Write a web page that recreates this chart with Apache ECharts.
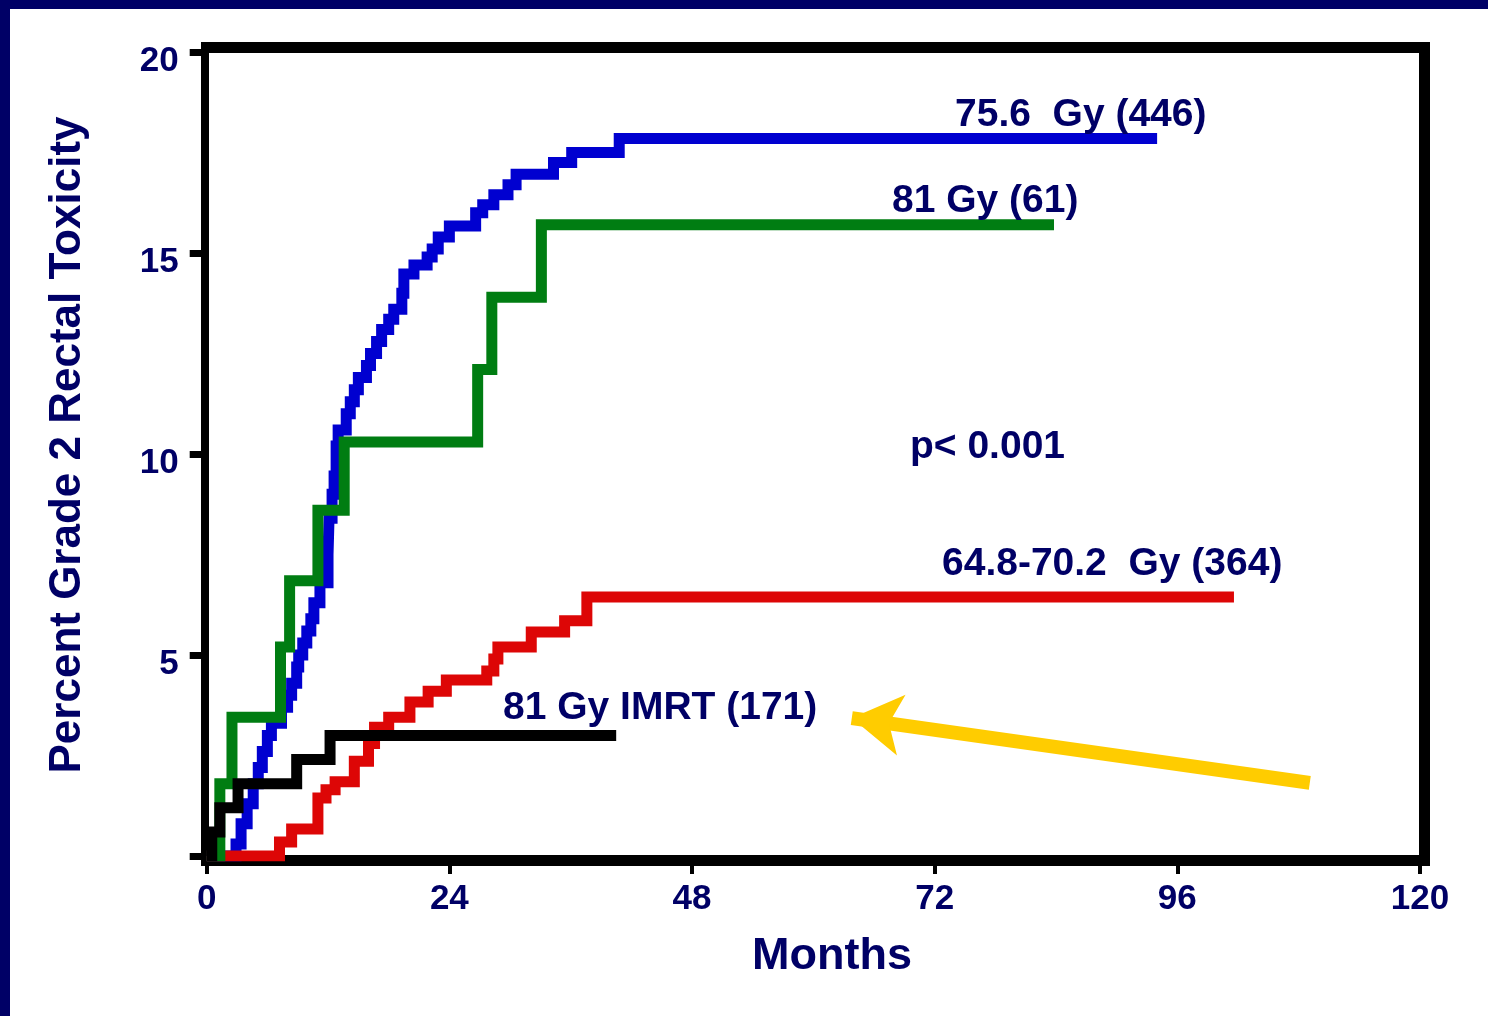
<!DOCTYPE html>
<html>
<head>
<meta charset="utf-8">
<script src="https://cdn.jsdelivr.net/npm/echarts@6/dist/echarts.min.js"></script>
<style>
html,body{margin:0;padding:0;background:#fff;}
#chart{width:1488px;height:1016px;}
</style>
</head>
<body>
<div id="chart"></div>
<script>
// ---- Data (months, cumulative % grade 2 rectal toxicity), step curves ----
var xTicks = [0, 24, 48, 72, 96, 120];
var yTickLabels = {0: '', 5: '5', 10: '10', 15: '15', 20: '20'};

var gy756 = [[0,0],[2.9,0.3],[3.4,0.8],[4.0,1.3],[4.6,1.8],[5.1,2.2],[5.5,2.6],[6.0,3.0],[6.4,3.3],[7.4,3.7],[8.0,4.0],[8.4,4.3],[8.9,4.7],[9.1,5.0],[9.5,5.3],[9.9,5.6],[10.3,5.9],[10.6,6.3],[11.2,6.8],[12.0,7.5],[12.1,8.4],[12.4,9.0],[12.6,9.45],[12.8,10.2],[13.0,10.6],[13.8,11.0],[14.2,11.3],[14.6,11.6],[15.0,11.9],[15.8,12.2],[16.2,12.5],[16.8,12.8],[17.3,13.1],[18.0,13.35],[18.5,13.6],[19.3,14.0],[19.5,14.48],[20.5,14.7],[21.8,14.9],[22.3,15.1],[22.9,15.4],[24.0,15.67],[26.6,16.0],[27.3,16.2],[28.4,16.45],[29.8,16.7],[30.6,16.96],[34.3,17.25],[36.1,17.5],[40.8,17.85],[94.0,17.85]];

var gy6470 = [[0,0],[7.2,0.35],[8.4,0.67],[11.0,1.44],[11.8,1.65],[12.7,1.85],[14.6,2.36],[16.0,2.8],[16.6,3.2],[18.0,3.45],[20.1,3.83],[21.9,4.1],[23.7,4.38],[27.7,4.6],[28.4,4.9],[28.8,5.2],[32.1,5.57],[35.4,5.85],[37.6,6.44],[101.6,6.44]];

var gy81 = [[0,0],[1.3,1.8],[2.5,3.45],[7.3,5.2],[8.2,6.85],[11.0,8.6],[13.6,10.3],[26.8,12.1],[28.2,13.9],[33.1,15.7],[83.8,15.7]];

var gy81imrt = [[0,0],[0.5,0.6],[1.3,1.2],[3.1,1.8],[8.9,2.4],[12.2,3.0],[40.5,3.0]];

var arrowFrom = [109.1, 1.82];
var arrowTo = [63.8, 3.43];

var labels = [
  {text: '75.6  Gy (446)', x: 955, y: 115},
  {text: '81 Gy (61)', x: 892, y: 201},
  {text: 'p< 0.001', x: 910, y: 447},
  {text: '64.8-70.2  Gy (364)', x: 942, y: 564},
  {text: '81 Gy IMRT (171)', x: 503, y: 708}
];

var NAVY = '#000066';
var FONT = '"Liberation Sans", Arial, sans-serif';

function stepSeries(name, data, color) {
  return {
    name: name, type: 'line', step: 'end', data: data,
    symbol: 'none', animation: false, silent: true,
    lineStyle: {color: color, width: 11, cap: 'butt', join: 'miter'}
  };
}

var chart = echarts.init(document.getElementById('chart'), null, {renderer: 'canvas'});

var graphics = [
  // navy slide frame
  {type: 'rect', shape: {x: 0, y: 0, width: 1488, height: 9}, style: {fill: NAVY}, z: 0},
  {type: 'rect', shape: {x: 0, y: 0, width: 10, height: 1016}, style: {fill: NAVY}, z: 0},
  // plot frame
  {type: 'rect', shape: {x: 201, y: 42, width: 1229, height: 11}, style: {fill: '#000'}, z: 0},
  {type: 'rect', shape: {x: 1419, y: 42, width: 11, height: 824}, style: {fill: '#000'}, z: 0},
  {type: 'rect', shape: {x: 201, y: 855, width: 1229, height: 11}, style: {fill: '#000'}, z: 0},
  {type: 'rect', shape: {x: 201, y: 42, width: 8, height: 824}, style: {fill: '#000'}, z: 0},
  // axis titles
  {type: 'text', x: 68, y: 445, rotation: Math.PI / 2, z: 10,
   style: {text: 'Percent Grade 2 Rectal Toxicity', fill: NAVY, font: 'bold 44px ' + FONT,
           align: 'center', verticalAlign: 'middle', textAlign: 'center', textVerticalAlign: 'middle'}},
  {type: 'text', x: 832, y: 957, z: 10,
   style: {text: 'Months', fill: NAVY, font: 'bold 45px ' + FONT,
           align: 'center', verticalAlign: 'middle', textAlign: 'center', textVerticalAlign: 'middle'}}
];
labels.forEach(function (l) {
  graphics.push({type: 'text', x: l.x, y: l.y, z: 10,
    style: {text: l.text, fill: NAVY, font: 'bold 39px ' + FONT,
            align: 'left', verticalAlign: 'middle', textAlign: 'left', textVerticalAlign: 'middle'}});
});

var blackSeries = stepSeries('81 Gy IMRT (171)', gy81imrt, '#000000');
blackSeries.markLine = {
  silent: true, animation: false,
  symbol: ['none', 'arrow'], symbolSize: [46, 50],
  label: {show: false},
  lineStyle: {color: '#FFCC00', width: 14, type: 'solid', opacity: 1},
  data: [[{coord: arrowFrom}, {coord: arrowTo}]]
};

chart.setOption({
  backgroundColor: '#ffffff',
  animation: false,
  grid: {left: 206.7, right: 68, top: 52, bottom: 160, containLabel: false},
  xAxis: {
    type: 'value', min: xTicks[0], max: xTicks[xTicks.length - 1], interval: 24,
    axisLine: {show: false},
    axisTick: {show: true, length: 18, lineStyle: {color: '#000', width: 4}},
    splitLine: {show: false},
    axisLabel: {margin: 26, color: NAVY, fontSize: 35, fontWeight: 'bold', fontFamily: FONT,
      formatter: function (v) { return xTicks.indexOf(v) >= 0 ? String(v) : ''; }}
  },
  yAxis: {
    type: 'value', min: 0, max: 20, interval: 5,
    axisLine: {show: false},
    axisTick: {show: true, length: 17, lineStyle: {color: '#000', width: 7}},
    splitLine: {show: false},
    axisLabel: {margin: 28, color: NAVY, fontSize: 35, fontWeight: 'bold', fontFamily: FONT,
      verticalAlign: 'top', lineHeight: 18,
      formatter: function (v) { return yTickLabels[v] !== undefined ? yTickLabels[v] : ''; }}
  },
  graphic: graphics,
  series: [
    stepSeries('75.6 Gy (446)', gy756, '#0000D0'),
    stepSeries('64.8-70.2 Gy (364)', gy6470, '#DD0606'),
    stepSeries('81 Gy (61)', gy81, '#007D12'),
    blackSeries
  ]
});
</script>
</body>
</html>
